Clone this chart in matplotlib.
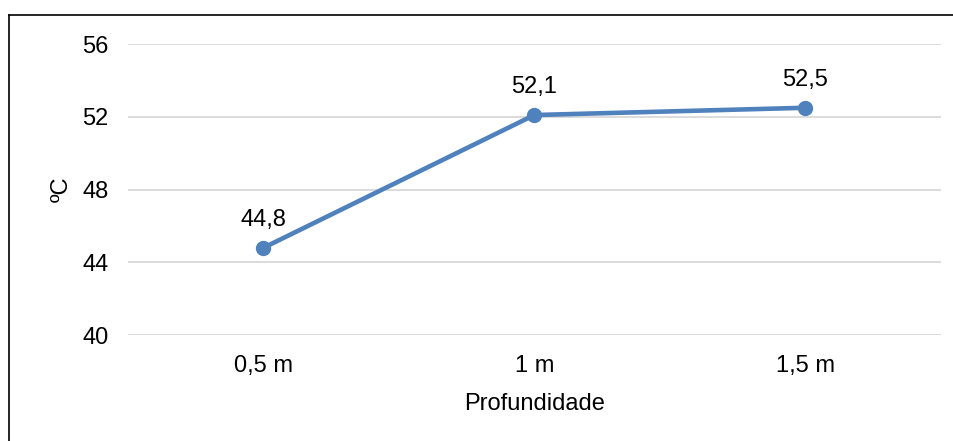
import matplotlib
matplotlib.use("Agg")
import matplotlib.pyplot as plt
from matplotlib.lines import Line2D

plt.rcParams['font.family'] = ['Liberation Sans', 'DejaVu Sans']

depths = ["0,5 m", "1 m", "1,5 m"]
temps = [44.8, 52.1, 52.5]
yticks = [40, 44, 48, 52, 56]

FS = 17

fig = plt.figure(figsize=(9.54, 4.41), dpi=100)
ax = fig.add_axes([0.134, 0.240, 0.852, 0.660])

x = list(range(len(depths)))
ax.plot(x, temps, color="#4F81BD", linewidth=3.3, marker="o", markersize=10,
        solid_capstyle="round", zorder=3)
for xi, v in zip(x, temps):
    ax.annotate(f"{v:.1f}".replace(".", ","), (xi, v), xytext=(0, 20),
                textcoords="offset points", ha="center", va="center", fontsize=FS)

ax.set_xlim(-0.5, len(depths) - 0.5)
ax.set_ylim(40, 56)
ax.set_yticks(yticks)
ax.set_yticklabels([str(t) for t in yticks])
ax.set_xticks(x)
ax.set_xticklabels(depths)
ax.grid(axis="y", color="#D9D9D9", linewidth=1.3)
ax.set_axisbelow(True)
for s in ax.spines.values():
    s.set_visible(False)
ax.tick_params(length=0, labelsize=FS)
ax.tick_params(axis="y", pad=14)
ax.tick_params(axis="x", pad=14)
ax.set_xlabel("Profundidade", fontsize=FS, labelpad=12)
ax.set_ylabel("ºC", fontsize=FS, labelpad=7)

# chart border (left and top edges visible)
fig.add_artist(Line2D([9 / 954, 9 / 954], [0, 1 - 15 / 441], transform=fig.transFigure,
                      color="black", linewidth=1.2))
fig.add_artist(Line2D([9 / 954, 1], [1 - 15 / 441, 1 - 15 / 441], transform=fig.transFigure,
                      color="black", linewidth=1.2))

fig.savefig("out.png", dpi=100)
